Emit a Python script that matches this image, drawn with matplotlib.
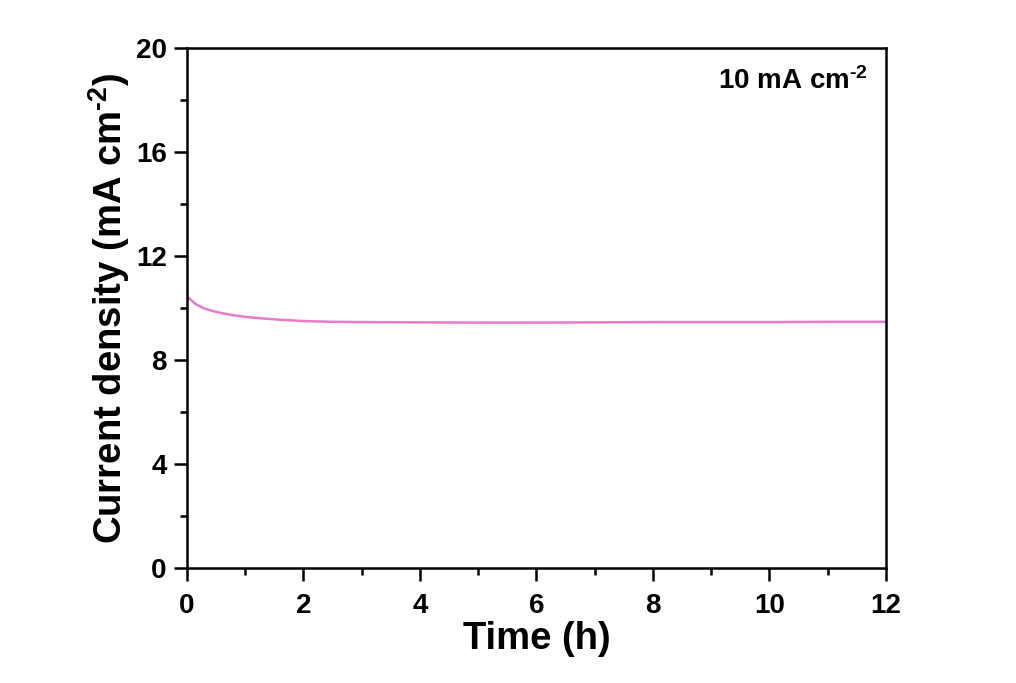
import matplotlib
matplotlib.use('Agg')
import matplotlib.pyplot as plt
from matplotlib.ticker import MultipleLocator

plt.rcParams['font.family'] = ['Liberation Sans', 'DejaVu Sans']
plt.rcParams['font.weight'] = 'bold'
plt.rcParams['mathtext.fontset'] = 'custom'
plt.rcParams['mathtext.rm'] = 'Liberation Sans:bold'
plt.rcParams['mathtext.default'] = 'rm'

# стабильность тока при 10 mA cm-2
time_h = [0.0, 0.05, 0.15, 0.3, 0.5, 0.75, 1.0, 1.3, 1.6, 2.0, 2.5, 3.0, 4.0,
          5.0, 6.0, 7.0, 8.0, 9.0, 10.0, 11.0, 12.0]
current = [10.45, 10.35, 10.15, 9.98, 9.85, 9.74, 9.66, 9.6, 9.55, 9.5, 9.47, 9.46, 9.45,
           9.44, 9.44, 9.45, 9.46, 9.46, 9.46, 9.47, 9.47]

fig = plt.figure(figsize=(10.16, 6.83), dpi=100)
ax = fig.add_axes([0.184, 0.168, 0.688, 0.762])

ax.plot(time_h, current, color='#E87CC8', linewidth=1.8)

ax.set_xlim(0, 12)
ax.set_ylim(0, 20)
ax.xaxis.set_major_locator(MultipleLocator(2))
ax.xaxis.set_minor_locator(MultipleLocator(1))
ax.yaxis.set_major_locator(MultipleLocator(4))
ax.yaxis.set_minor_locator(MultipleLocator(2))

for s in ax.spines.values():
    s.set_linewidth(1.8)
ax.tick_params(which='major', direction='out', length=9.5, width=1.8, labelsize=20, pad=5)
ax.tick_params(axis='x', which='major', pad=8)
ax.tick_params(which='minor', direction='out', length=5, width=1.8)

ax.set_xlabel('Time (h)', fontsize=27.5, fontweight='bold', labelpad=2)
ax.set_ylabel(r'Current density (mA cm$^{\text{-2}}$)', fontsize=27.5, fontweight='bold', labelpad=3)

ax.text(0.867, 0.936, r'10 mA cm$^{\text{-2}}$', transform=ax.transAxes, fontsize=20,
        fontweight='bold', ha='center', va='center')

fig.savefig('out.png', dpi=100)
